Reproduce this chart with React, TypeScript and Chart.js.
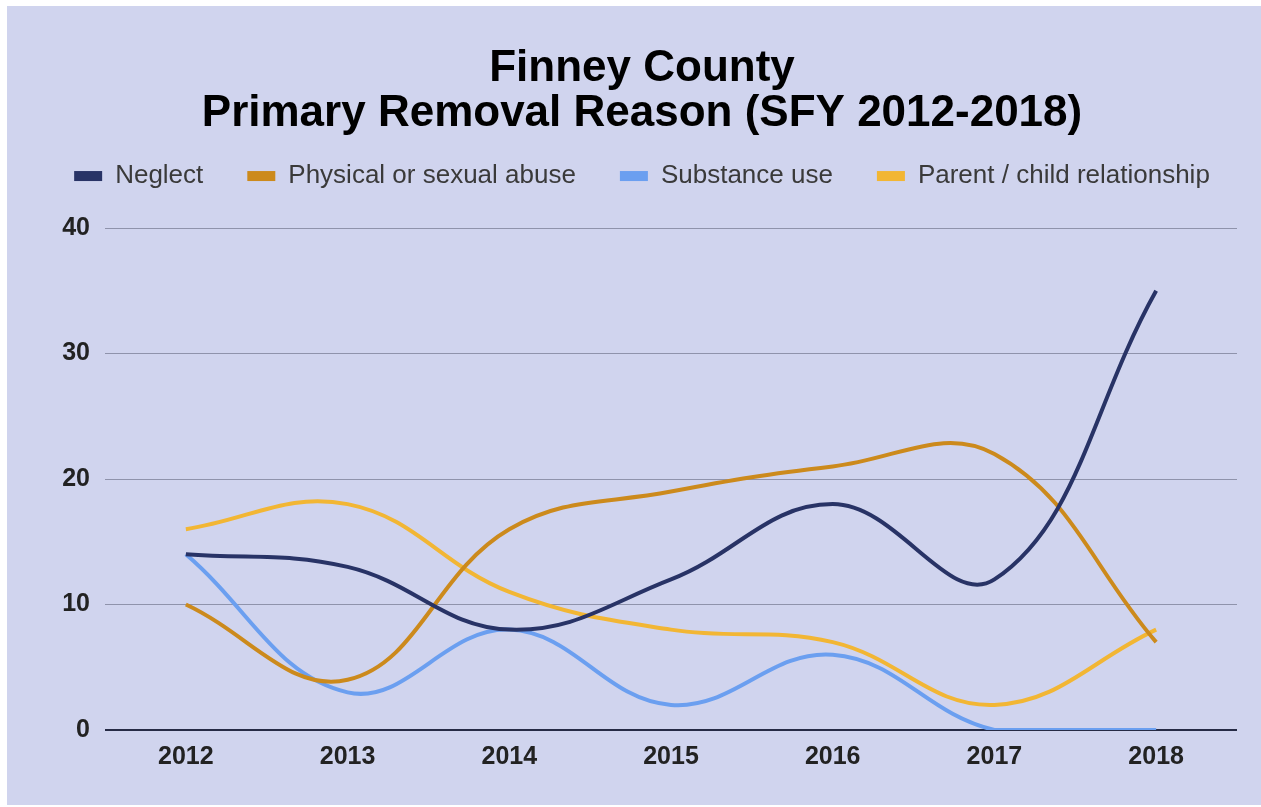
import React, { useEffect, useRef } from "react";
import { Chart, registerables } from "chart.js";

Chart.register(...registerables);

const years = ["2012", "2013", "2014", "2015", "2016", "2017", "2018"];
const neglect = [14, 13, 8, 12, 18, 12, 35];
const physicalAbuse = [10, 4, 16, 19, 21, 22, 7];
const substanceUse = [14, 3, 8, 2, 6, 0, 0];
const parentChild = [16, 18, 11, 8, 7, 2, 8];
const seriesNames = ["Neglect", "Physical or sexual abuse", "Substance use", "Parent / child relationship"];
const seriesColors = ["#283366", "#cc8a1c", "#6b9ff0", "#f2b634"];
const titleLines = ["Finney County", "Primary Removal Reason (SFY 2012-2018)"];
const yMin = 0;
const yMax = 40;
const yStep = 10;

const FONT = "'Liberation Sans', Arial, sans-serif";

export default function App() {
  const ref = useRef<HTMLCanvasElement>(null);

  useEffect(() => {
    if (!ref.current) return;
    const values = [neglect, physicalAbuse, substanceUse, parentChild];
    const legendSpacer = {
      id: "legendSpacer",
      beforeInit(chart: any) {
        const legend = chart.legend;
        if (!legend) return;
        const orig = legend.fit;
        legend.fit = function () {
          orig.call(this);
          this.height = 109;
        };
      },
    };
    const chart = new Chart(ref.current, {
      type: "line",
      data: {
        labels: years,
        datasets: values.map((v, i) => ({
          label: seriesNames[i],
          data: v,
          borderColor: seriesColors[i],
          backgroundColor: seriesColors[i],
          borderWidth: 4,
          pointRadius: 0,
          pointHoverRadius: 0,
          tension: 0.4,
          fill: false,
        })),
      },
      options: {
        responsive: false,
        animation: false,
        layout: { padding: { left: 16, right: 0, top: 0, bottom: 0 } },
        plugins: {
          tooltip: { enabled: false },
          title: {
            display: true,
            text: titleLines,
            color: "#000000",
            font: { family: FONT, size: 44, weight: "bold", lineHeight: 1.03 },
            padding: { top: 40, bottom: -17.6 },
          },
          legend: {
            display: true,
            position: "top",
            labels: {
              color: "#3a3a3a",
              font: { family: FONT, size: 26 },
              boxWidth: 28,
              boxHeight: 10,
              padding: 44,
              generateLabels: (c: any) =>
                (Chart.defaults.plugins.legend.labels.generateLabels as any)(c).map((l: any) => ({
                  ...l,
                  lineWidth: 0,
                })),
            },
          },
        },
        scales: {
          x: {
            offset: true,
            grid: { display: false, drawTicks: false },
            border: { display: false },
            ticks: {
              color: "#222222",
              font: { family: FONT, size: 25, weight: "bold" },
              padding: 12,
              maxRotation: 0,
            },
            afterFit: (s: any) => {
              s.height = 75;
            },
          },
          y: {
            min: yMin,
            max: yMax,
            grid: {
              drawTicks: false,
              color: (ctx: any) => (ctx.tick && ctx.tick.value === 0 ? "#262b45" : "#8f93ab"),
              lineWidth: (ctx: any) => (ctx.tick && ctx.tick.value === 0 ? 2 : 1),
            },
            border: { display: false },
            ticks: {
              stepSize: yStep,
              color: "#222222",
              font: { family: FONT, size: 25, weight: "bold" },
              padding: 15,
            },
            afterFit: (s: any) => {
              s.width = 82;
            },
          },
          yR: {
            position: "right",
            display: true,
            grid: { display: false, drawTicks: false },
            border: { display: false },
            ticks: { display: false },
            afterFit: (s: any) => {
              s.width = 24;
            },
          },
        },
      },
      plugins: [legendSpacer],
    } as any);
    return () => chart.destroy();
  }, []);

  return (
    <div
      style={{
        position: "fixed",
        left: 7,
        top: 6,
        width: 1254,
        height: 799,
        background: "#d0d4ee",
      }}
    >
      <canvas ref={ref} width={1254} height={799} style={{ display: "block" }} />
    </div>
  );
}
